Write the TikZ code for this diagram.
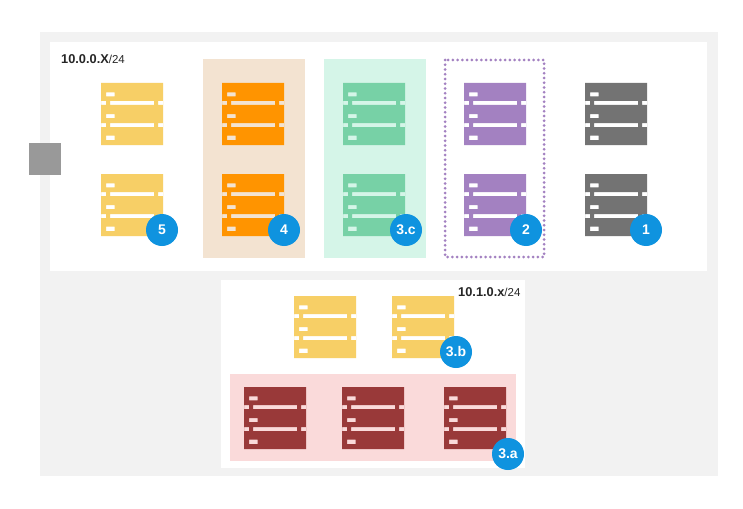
\documentclass[tikz,border=0pt]{standalone}
\usepackage{fontspec}
\setmainfont{Liberation Sans}
\definecolor{frame_gray}{HTML}{F2F2F2}
\definecolor{switch_gray}{HTML}{999999}
\definecolor{rack_yellow}{HTML}{F7CF66}
\definecolor{rack_orange}{HTML}{FF9400}
\definecolor{rack_green}{HTML}{77D1A6}
\definecolor{rack_purple}{HTML}{A381C1}
\definecolor{rack_gray}{HTML}{737373}
\definecolor{rack_red}{HTML}{993939}
\definecolor{zone_beige}{HTML}{F3E3D1}
\definecolor{zone_mint}{HTML}{D5F5E8}
\definecolor{zone_pink}{HTML}{FADADA}
\definecolor{badge_blue}{HTML}{0F93DF}
\tikzset{
    badge/.style={circle,fill=badge_blue,text=white,minimum size=32pt,inner sep=0pt,font=\fontsize{14}{16}\selectfont\bfseries},
    net_label/.style={anchor=west,inner sep=0pt,text=black!85,font=\fontsize{11.5}{14}\selectfont},
    pics/rack/.style={code={
        \fill[#1,even odd rule] (0,0) rectangle (62,62)
            (5,9.3) rectangle (13.7,13.3)
            (5,31) rectangle (13.7,35)
            (5,52.7) rectangle (13.7,57)
            (0,18) rectangle (5,22) (9,18) rectangle (53,22) (57,18) rectangle (62,22)
            (0,40) rectangle (5,44) (9,40) rectangle (53,44) (57,40) rectangle (62,44);
    }}
}
\newcommand{\netaddr}[1]{{\fontsize{12.8}{14}\selectfont\bfseries #1}}
\begin{document}
\begin{tikzpicture}[x=1pt,y=-1pt]
    \useasboundingbox (0,0) rectangle (743,508);
    % frame and subnets
    \fill[frame_gray] (40,32) rectangle (718,476);
    \fill[white] (50,42) rectangle (707,271);
    \fill[white] (221,280) rectangle (525,468);
    \fill[switch_gray] (29,143) rectangle (61,175);
    % zones
    \fill[zone_beige] (203,59) rectangle (305,258);
    \fill[zone_mint] (324,59) rectangle (426,258);
    \fill[zone_pink] (230,374) rectangle (516,461);
    \draw[rack_purple,line width=3pt,line cap=round,dash pattern=on 0pt off 4.75pt] (445,60) rectangle (544,257);
    % upper racks
    \foreach \x/\col in {101/rack_yellow,222/rack_orange,343/rack_green,464/rack_purple,585/rack_gray}
    {
        \pic at (\x,83) {rack=\col};
        \pic at (\x,174) {rack=\col};
    }
    % lower racks
    \pic at (294,296) {rack=rack_yellow};
    \pic at (392,296) {rack=rack_yellow};
    \foreach \x in {244,342,444}
        \pic at (\x,387) {rack=rack_red};
    % labels
    \node[net_label] (net_upper) at (61,59.5) {\netaddr{10.0.0.X}/24};
    \node[net_label] (net_lower) at (458,292) {\netaddr{10.1.0.x}/24};
    % badges
    \node[badge] (step_five) at (162,230) {5};
    \node[badge] (step_four) at (284,230) {4};
    \node[badge] (step_c) at (406,230) {3.c};
    \node[badge] (step_two) at (526,230) {2};
    \node[badge] (step_one) at (646,230) {1};
    \node[badge] (step_b) at (456,352) {3.b};
    \node[badge] (step_a) at (508,454) {3.a};
\end{tikzpicture}
\end{document}
